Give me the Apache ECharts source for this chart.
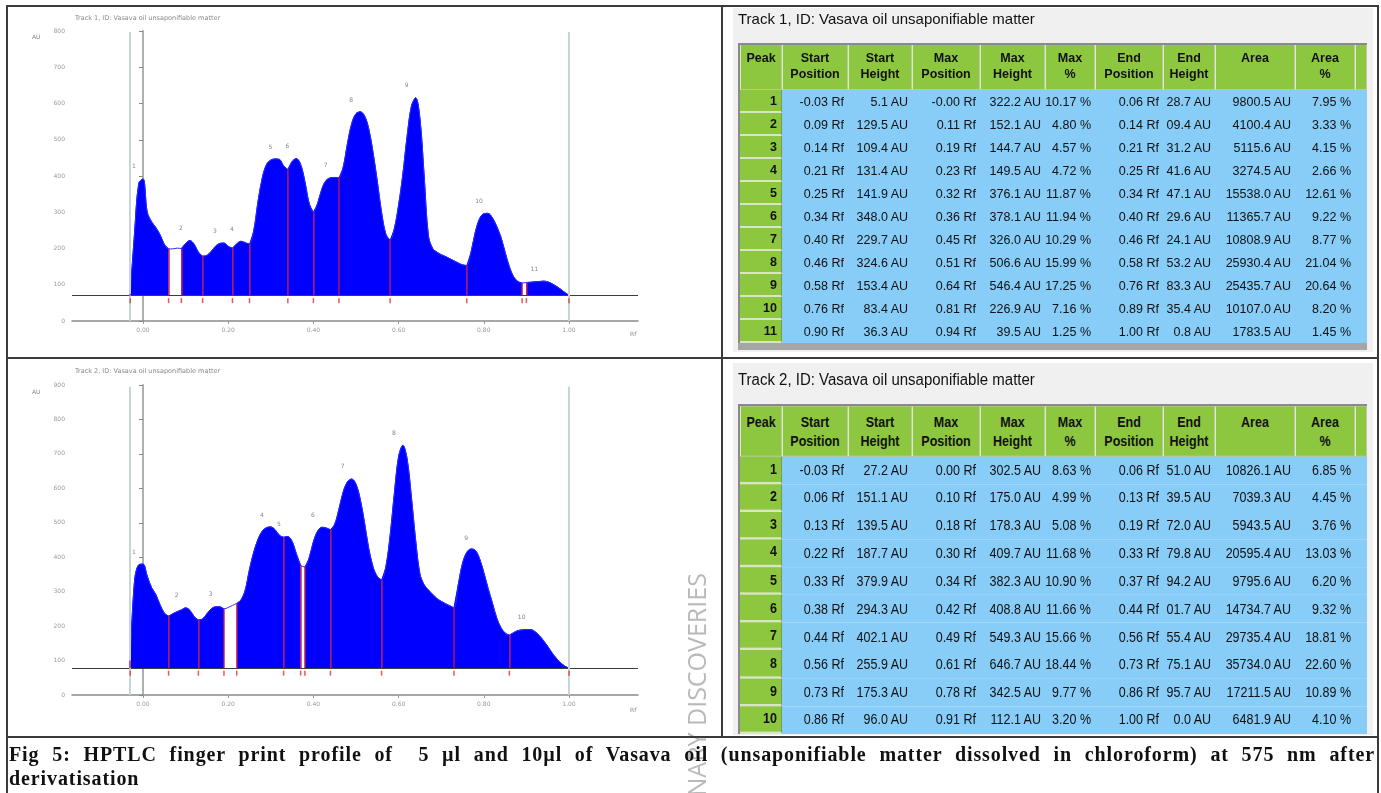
<!DOCTYPE html>
<html><head><meta charset="utf-8">
<script src="https://cdn.jsdelivr.net/npm/echarts@6/dist/echarts.min.js"></script>
<style>
html,body{margin:0;padding:0;background:#fff;}
#page{position:relative;width:1381px;height:793px;overflow:hidden;background:#fff;}
#chart{position:absolute;left:0;top:0;width:1381px;height:793px;}
.ln{position:absolute;background:#3a3a3a;z-index:5;}
.panel{position:absolute;background:#f0f0f0;z-index:1;}
.ttl{position:absolute;font-family:'Liberation Sans',Arial,sans-serif;font-size:15px;color:#111;z-index:2;white-space:nowrap;}
table.hp{position:absolute;border-collapse:separate;border-spacing:0;table-layout:fixed;font-family:'Liberation Sans',Arial,sans-serif;color:#111;z-index:2;border-left:2px solid #8a8a8a;border-top:2px solid #8a8a8a;}
table.hp th{background:#8dc63f;font-weight:bold;text-align:center;vertical-align:top;padding:5px 0 0 0;line-height:16px;font-size:12.5px;border-right:1px solid #b9c9a4;border-bottom:1px solid #b9c9a4;border-left:1px solid #dcebc6;overflow:hidden;white-space:nowrap;}
table.hp td{white-space:nowrap;overflow:hidden;font-size:12.5px;text-align:right;padding:0 4px 0 0;}
table.hp td.pk{background:#8dc63f;font-weight:bold;border-bottom:2px solid #d9e6c6;border-right:1px solid #7a9a50;}
table.hp td.v{background:#87cdf8;}
.band{position:absolute;background:#a6a6a6;z-index:2;}
#cap{position:absolute;left:9px;top:742px;width:1366px;font-family:'Liberation Serif',serif;font-weight:bold;font-size:20px;line-height:24px;color:#111;z-index:4;}
#cap .l1{text-align:justify;text-align-last:justify;white-space:nowrap;}
#measure{position:absolute;left:0;top:0;visibility:hidden;white-space:nowrap;font-family:'Liberation Serif',serif;font-weight:bold;font-size:20px;}
#wm{position:absolute;left:679px;top:573px;height:320px;width:30px;writing-mode:vertical-rl;transform:rotate(180deg);text-align:right;font-family:'Open Sans',sans-serif;font-size:25px;color:#b9b9b9;z-index:3;white-space:nowrap;}
</style></head>
<body><div id="page">
<div id="chart"></div>
<div class="panel" style="left:733px;top:8px;width:640px;height:344px;"></div>
<div class="panel" style="left:733px;top:363px;width:640px;height:372px;"></div>
<div class="ttl" style="left:738px;top:10px;">Track 1, ID: Vasava oil unsaponifiable matter</div>
<div class="ttl" style="left:738px;top:369px;transform:scaleY(1.15);transform-origin:0 0;">Track 2, ID: Vasava oil unsaponifiable matter</div>
<table class="hp" id="tab1" style="left:738px;top:43px;"></table>
<div class="band" style="left:738px;top:343px;width:629px;height:7px;"></div>
<table class="hp" id="tab2" style="left:738px;top:404px;transform:scaleY(1.2);transform-origin:0 0;"></table>
<div id="wm">LIMINARY DISCOVERIES</div>
<div id="cap"><div class="l1" id="capl1">Fig 5: HPTLC finger print profile of&nbsp; 5 µl and 10µl of Vasava oil (unsaponifiable matter dissolved in chloroform) at 575 nm after</div><div>derivatisation</div></div>
<span id="measure"></span>
<div class="ln" style="left:6px;top:5px;width:1373px;height:2px;"></div>
<div class="ln" style="left:6px;top:5px;width:2px;height:790px;"></div>
<div class="ln" style="left:1377px;top:5px;width:2px;height:790px;"></div>
<div class="ln" style="left:721px;top:5px;width:2px;height:732px;"></div>
<div class="ln" style="left:6px;top:357px;width:1373px;height:2px;"></div>
<div class="ln" style="left:6px;top:736px;width:1373px;height:2px;"></div>
</div>
<script>
// ---------------- Data ----------------
const xTickVals = [0.00, 0.20, 0.40, 0.60, 0.80, 1.00];
const frontLines = [-0.03, 1.00];

// Track 1 densitogram (Rf, AU)
const t1Curve = [[-0.03,75],[-0.02,240],[-0.01,380],[0.00,392],[0.01,300],[0.02,274],[0.03,258],[0.04,238],[0.05,212],[0.06,199],[0.07,199],[0.08,201],[0.09,200],[0.10,214],[0.11,222],[0.12,212],[0.13,190],[0.14,179],[0.15,181],[0.16,192],[0.17,206],[0.18,214],[0.19,215],[0.20,206],[0.21,201],[0.22,213],[0.23,220],[0.24,216],[0.25,212],[0.26,250],[0.27,330],[0.28,395],[0.29,432],[0.30,444],[0.31,447],[0.32,446],[0.33,428],[0.34,418],[0.35,440],[0.36,448],[0.37,432],[0.38,385],[0.39,325],[0.40,300],[0.41,325],[0.42,365],[0.43,388],[0.44,395],[0.45,396],[0.46,395],[0.47,425],[0.48,490],[0.49,545],[0.50,572],[0.51,577],[0.52,566],[0.53,530],[0.54,465],[0.55,385],[0.56,300],[0.57,240],[0.58,223],[0.59,255],[0.60,320],[0.61,405],[0.62,510],[0.63,592],[0.64,616],[0.65,560],[0.66,400],[0.67,235],[0.68,200],[0.69,190],[0.70,183],[0.71,178],[0.72,172],[0.73,166],[0.74,160],[0.75,155],[0.76,153],[0.77,190],[0.78,245],[0.79,282],[0.80,296],[0.81,297],[0.82,285],[0.83,262],[0.84,232],[0.85,190],[0.86,150],[0.87,122],[0.88,109],[0.89,105],[0.90,106],[0.91,107],[0.92,108],[0.93,109],[0.94,110],[0.95,108],[0.96,103],[0.97,96],[0.98,88],[0.99,79],[1.00,71]];
const t1Base = 70;
const t1StartPos = ["-0.03","0.09","0.14","0.21","0.25","0.34","0.40","0.46","0.58","0.76","0.90"];
const t1StartH   = ["5.1","129.5","109.4","131.4","141.9","348.0","229.7","324.6","153.4","83.4","36.3"];
const t1MaxPos   = ["-0.00","0.11","0.19","0.23","0.32","0.36","0.45","0.51","0.64","0.81","0.94"];
const t1MaxH     = ["322.2","152.1","144.7","149.5","376.1","378.1","326.0","506.6","546.4","226.9","39.5"];
const t1MaxPct   = ["10.17","4.80","4.57","4.72","11.87","11.94","10.29","15.99","17.25","7.16","1.25"];
const t1EndPos   = ["0.06","0.14","0.21","0.25","0.34","0.40","0.46","0.58","0.76","0.89","1.00"];
const t1EndH     = ["28.7","09.4","31.2","41.6","47.1","29.6","24.1","53.2","83.3","35.4","0.8"];
const t1Area     = ["9800.5","4100.4","5115.6","3274.5","15538.0","11365.7","10808.9","25930.4","25435.7","10107.0","1783.5"];
const t1AreaPct  = ["7.95","3.33","4.15","2.66","12.61","9.22","8.77","21.04","20.64","8.20","1.45"];

// Track 2 densitogram (Rf, AU)
const t2Curve = [[-0.03,100],[-0.02,330],[-0.01,378],[0.00,380],[0.01,345],[0.02,312],[0.03,292],[0.04,262],[0.05,238],[0.06,229],[0.07,236],[0.08,242],[0.09,247],[0.10,253],[0.11,246],[0.12,228],[0.13,218],[0.14,221],[0.15,236],[0.16,250],[0.17,256],[0.18,256],[0.19,250],[0.20,254],[0.21,260],[0.22,266],[0.23,276],[0.24,305],[0.25,365],[0.26,415],[0.27,452],[0.28,476],[0.29,486],[0.30,488],[0.31,480],[0.32,464],[0.33,458],[0.34,460],[0.35,446],[0.36,410],[0.37,377],[0.38,372],[0.39,398],[0.40,445],[0.41,476],[0.42,487],[0.43,485],[0.44,480],[0.45,496],[0.46,540],[0.47,590],[0.48,619],[0.49,627],[0.50,612],[0.51,568],[0.52,500],[0.53,425],[0.54,372],[0.55,344],[0.56,334],[0.57,372],[0.58,462],[0.59,585],[0.60,692],[0.61,725],[0.62,685],[0.63,575],[0.64,450],[0.65,352],[0.66,320],[0.67,305],[0.68,292],[0.69,280],[0.70,272],[0.71,265],[0.72,259],[0.73,253],[0.74,320],[0.75,382],[0.76,414],[0.77,424],[0.78,420],[0.79,396],[0.80,356],[0.81,310],[0.82,268],[0.83,225],[0.84,196],[0.85,180],[0.86,174],[0.87,181],[0.88,187],[0.89,189],[0.90,190],[0.91,190],[0.92,184],[0.93,173],[0.94,158],[0.95,141],[0.96,123],[0.97,107],[0.98,94],[0.99,84],[1.00,78]];
const t2Base = 78;
const t2StartPos = ["-0.03","0.06","0.13","0.22","0.33","0.38","0.44","0.56","0.73","0.86"];
const t2StartH   = ["27.2","151.1","139.5","187.7","379.9","294.3","402.1","255.9","175.3","96.0"];
const t2MaxPos   = ["0.00","0.10","0.18","0.30","0.34","0.42","0.49","0.61","0.78","0.91"];
const t2MaxH     = ["302.5","175.0","178.3","409.7","382.3","408.8","549.3","646.7","342.5","112.1"];
const t2MaxPct   = ["8.63","4.99","5.08","11.68","10.90","11.66","15.66","18.44","9.77","3.20"];
const t2EndPos   = ["0.06","0.13","0.19","0.33","0.37","0.44","0.56","0.73","0.86","1.00"];
const t2EndH     = ["51.0","39.5","72.0","79.8","94.2","01.7","55.4","75.1","95.7","0.0"];
const t2Area     = ["10826.1","7039.3","5943.5","20595.4","9795.6","14734.7","29735.4","35734.0","17211.5","6481.9"];
const t2AreaPct  = ["6.85","4.45","3.76","13.03","6.20","9.32","18.81","22.60","10.89","4.10"];

const headers = ['Peak','Start<br>Position','Start<br>Height','Max<br>Position','Max<br>Height','Max<br>%','End<br>Position','End<br>Height','Area','Area<br>%',''];
const colWidths = [42,66,64,68,65,50,68,52,80,60,12];

// ---------------- Tables ----------------
function buildTable(id, cols, headH, rowH) {
  const n = cols[0].length;
  let h = '<colgroup>' + colWidths.map(w => '<col style="width:' + w + 'px">').join('') + '</colgroup>';
  h += '<tr style="height:' + headH + 'px">' + headers.map(t => '<th>' + t + '</th>').join('') + '</tr>';
  const units = [' Rf',' AU',' Rf',' AU',' %',' Rf',' AU',' AU',' %'];
  for (let i = 0; i < n; i++) {
    h += '<tr style="height:' + rowH + 'px"><td class="pk">' + (i + 1) + '</td>';
    cols.forEach((c, j) => { h += '<td class="v">' + c[i] + units[j] + '</td>'; });
    h += '<td class="v"></td></tr>';
  }
  const el = document.getElementById(id);
  el.style.width = colWidths.reduce((a, b) => a + b, 0) + 'px';
  el.innerHTML = h;
}
buildTable('tab1', [t1StartPos,t1StartH,t1MaxPos,t1MaxH,t1MaxPct,t1EndPos,t1EndH,t1Area,t1AreaPct], 45, 23);
buildTable('tab2', [t2StartPos,t2StartH,t2MaxPos,t2MaxH,t2MaxPct,t2EndPos,t2EndH,t2Area,t2AreaPct], 41.5, 23.15);

// caption: small letter widening so the justified first line keeps modest word gaps
(function () {
  const l1 = document.getElementById('capl1');
  const m = document.getElementById('measure');
  m.innerHTML = l1.innerHTML;
  const w = m.getBoundingClientRect().width;
  const chars = l1.textContent.length;
  let ls = (1230 - w) / chars;
  ls = Math.max(0, Math.min(0.9, ls));
  document.getElementById('cap').style.letterSpacing = ls.toFixed(2) + 'px';
})();

// ---------------- Chart ----------------
const key = v => Math.round(parseFloat(v) * 100);
function curveAt(curve, x) { const k = key(x); const p = curve.find(q => key(q[0]) === k); return p ? p[1] : null; }

function trackSeries(idx, curve, base, sp, ep, mp, mh, topVal) {
  const out = [];
  sp.forEach((s, i) => {
    const a = key(s), b = key(ep[i]);
    const seg = curve.filter(q => key(q[0]) >= a && key(q[0]) <= b);
    out.push({ type:'line', xAxisIndex:idx, yAxisIndex:idx, data:seg, smooth:0.35, symbol:'none', silent:true,
      lineStyle:{ color:'#0000ff', width:1 }, areaStyle:{ color:'#0000ff', opacity:1, origin:base }, z:2 });
  });
  out.push({ type:'line', xAxisIndex:idx, yAxisIndex:idx, data:curve, smooth:0.35, symbol:'none', silent:true,
    lineStyle:{ color:'#2a2aff', width:1 }, z:3 });
  const bounds = [];
  sp.concat(ep).forEach(v => { if (!bounds.some(b => key(b) === key(v))) bounds.push(v); });
  const ml = [];
  ml.push({ yAxis: base, lineStyle:{ color:'#3c3c3c', width:1, type:'solid' } });
  frontLines.forEach(f => ml.push([{ coord:[f, 0], lineStyle:{ color:'#c6d6d6', width:2, type:'solid' } }, { coord:[f, topVal] }]));
  bounds.forEach(b => ml.push([{ coord:[parseFloat(b), base], lineStyle:{ color:'#c4124a', width:1.5, type:'solid', opacity:0.9 } }, { coord:[parseFloat(b), curveAt(curve, b)] }]));
  out.push({ type:'line', xAxisIndex:idx, yAxisIndex:idx, data:[], silent:true, z:4,
    markLine:{ silent:true, symbol:'none', animation:false, label:{ show:false }, data: ml } });
  out.push({ type:'scatter', xAxisIndex:idx, yAxisIndex:idx, silent:true, z:5,
    data: bounds.map(b => [parseFloat(b), base]), symbol:'rect', symbolSize:[1.5,5], symbolOffset:[0,5],
    itemStyle:{ color:'#e03030' } });
  out.push({ type:'scatter', xAxisIndex:idx, yAxisIndex:idx, silent:true, z:5,
    data: mp.map((p, i) => [parseFloat(p), parseFloat(mh[i]) + base]), symbolSize:0,
    label:{ show:true, position:'top', offset:[-9,-4], formatter: p => String(p.dataIndex + 1), fontSize:6, color:'#666', fontFamily:'DejaVu Sans' } });
  return out;
}

function xAxisCfg(idx) {
  return { type:'value', gridIndex:idx, min:-0.1667, max:1.162, splitLine:{ show:false },
    axisLine:{ lineStyle:{ color:'#8a8a8a', width:1.5 } },
    axisTick:{ show:true, customValues:xTickVals, length:3, lineStyle:{ color:'#999' } },
    axisLabel:{ customValues:xTickVals, formatter:v => v.toFixed(2), fontSize:6, color:'#999', margin:6, fontFamily:'DejaVu Sans' } };
}
function yAxisCfg(idx, max) {
  return { type:'value', gridIndex:idx, min:0, max:max, interval:100, splitLine:{ show:false },
    axisLine:{ show:true, lineStyle:{ color:'#b0b0b0', width:2 } },
    axisTick:{ show:true, length:4, lineStyle:{ color:'#888' } },
    axisLabel:{ fontSize:6, color:'#999', margin:7, fontFamily:'DejaVu Sans' } };
}

const chart = echarts.init(document.getElementById('chart'), null, { renderer:'canvas' });
chart.setOption({
  animation:false,
  backgroundColor:'transparent',
  title:[
    { text:'Track 1, ID: Vasava oil unsaponifiable matter', left:70, top:10, textStyle:{ fontSize:6.5, color:'#888', fontWeight:'normal', fontFamily:'DejaVu Sans' } },
    { text:'Track 2, ID: Vasava oil unsaponifiable matter', left:70, top:363, textStyle:{ fontSize:6.5, color:'#888', fontWeight:'normal', fontFamily:'DejaVu Sans' } }
  ],
  grid:[
    { left:72, top:31, width:566, height:290 },
    { left:72, top:385, width:566, height:310 }
  ],
  xAxis:[ xAxisCfg(0), xAxisCfg(1) ],
  yAxis:[ yAxisCfg(0, 800), yAxisCfg(1, 900) ],
  graphic:[
    { type:'text', left:32, top:34, style:{ text:'AU', fontSize:6, fill:'#888', fontFamily:'DejaVu Sans' } },
    { type:'text', left:32, top:389, style:{ text:'AU', fontSize:6, fill:'#888', fontFamily:'DejaVu Sans' } },
    { type:'text', left:630, top:331, style:{ text:'Rf', fontSize:6, fill:'#888', fontFamily:'DejaVu Sans' } },
    { type:'text', left:630, top:707, style:{ text:'Rf', fontSize:6, fill:'#888', fontFamily:'DejaVu Sans' } }
  ],
  series: trackSeries(0, t1Curve, t1Base, t1StartPos, t1EndPos, t1MaxPos, t1MaxH, 797)
    .concat(trackSeries(1, t2Curve, t2Base, t2StartPos, t2EndPos, t2MaxPos, t2MaxH, 895))
});
</script>
</body></html>
